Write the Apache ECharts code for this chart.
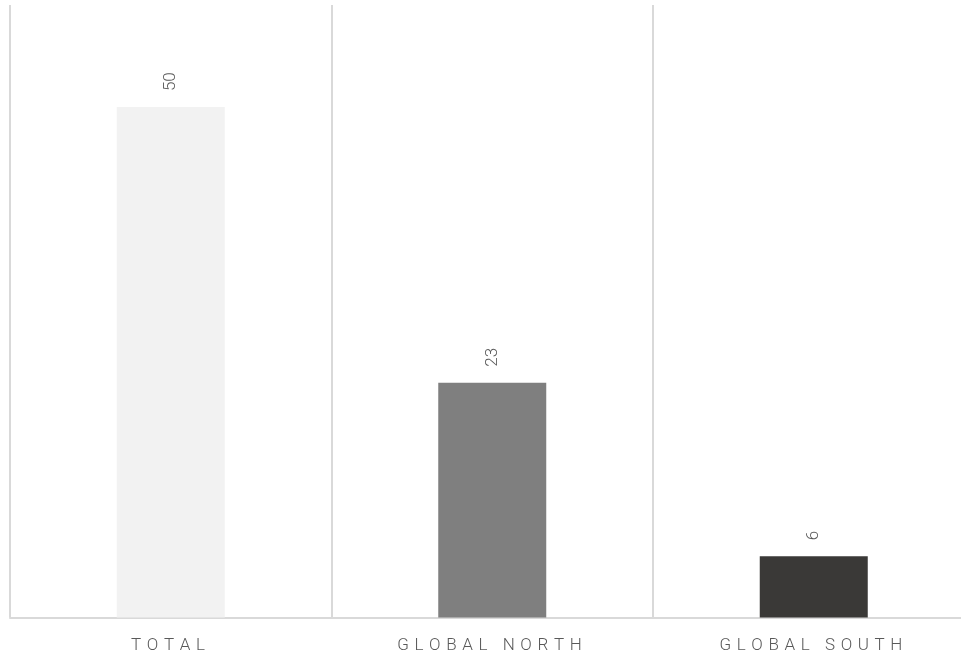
<!DOCTYPE html>
<html>
<head>
<meta charset="utf-8">
<script src="https://cdn.jsdelivr.net/npm/echarts@6/dist/echarts.min.js"></script>
<style>
html,body{margin:0;padding:0;background:#fff;}
#chart{width:961px;height:657px;}
</style>
</head>
<body>
<div id="chart"></div>
<script>
const categories = ['TOTAL', 'GLOBAL NORTH', 'GLOBAL SOUTH'];
const values = [50, 23, 6];
const barColors = ['#f2f2f2', '#7f7f7f', '#3a3937'];

// letter spacing for category labels: draw them char by char
(function () {
  const proto = CanvasRenderingContext2D.prototype;
  const orig = proto.fillText;
  const SPACING = 5.6;
  proto.fillText = function (t, x, y, w) {
    if (this.font && this.font.indexOf('Lato') !== -1 && typeof t === 'string' && t.length > 1) {
      const chars = Array.from(t);
      let total = 0;
      const widths = chars.map(c => { const m = this.measureText(c).width; total += m; return m; });
      total += SPACING * chars.length;
      const align = this.textAlign;
      let sx = x;
      if (align === 'center') sx = x - total / 2;
      else if (align === 'right' || align === 'end') sx = x - total;
      this.textAlign = 'left';
      for (let i = 0; i < chars.length; i++) {
        orig.call(this, chars[i], sx, y);
        sx += widths[i] + SPACING;
      }
      this.textAlign = align;
      return;
    }
    return w === undefined ? orig.call(this, t, x, y) : orig.call(this, t, x, y, w);
  };
})();

const chart = echarts.init(document.getElementById('chart'), null, { renderer: 'canvas' });
chart.setOption({
  animation: false,
  backgroundColor: '#ffffff',
  grid: { left: 10, top: 5, width: 964.5, bottom: 39.5, containLabel: false, outerBoundsMode: 'none' },
  xAxis: {
    type: 'category',
    data: categories,
    axisLine: { show: true, lineStyle: { color: '#d9d9d9', width: 2 } },
    axisTick: { show: false },
    splitLine: { show: true, lineStyle: { color: '#d9d9d9', width: 2 } },
    axisLabel: {
      margin: 20,
      color: '#595959',
      fontFamily: 'Roboto, Lato',
      fontWeight: 300,
      fontSize: 17
    }
  },
  yAxis: {
    type: 'value',
    min: 0,
    max: 60,
    show: false,
    splitLine: { show: false }
  },
  series: [{
    type: 'bar',
    barWidth: 108,
    data: values.map((v, i) => ({ value: v, itemStyle: { color: barColors[i] } })),
    label: {
      show: true,
      position: 'top',
      rotate: 90,
      align: 'left',
      verticalAlign: 'middle',
      distance: 16,
      color: '#595959',
      fontFamily: 'Roboto',
      fontWeight: 300,
      fontSize: 17
    }
  }]
});
</script>
</body>
</html>
